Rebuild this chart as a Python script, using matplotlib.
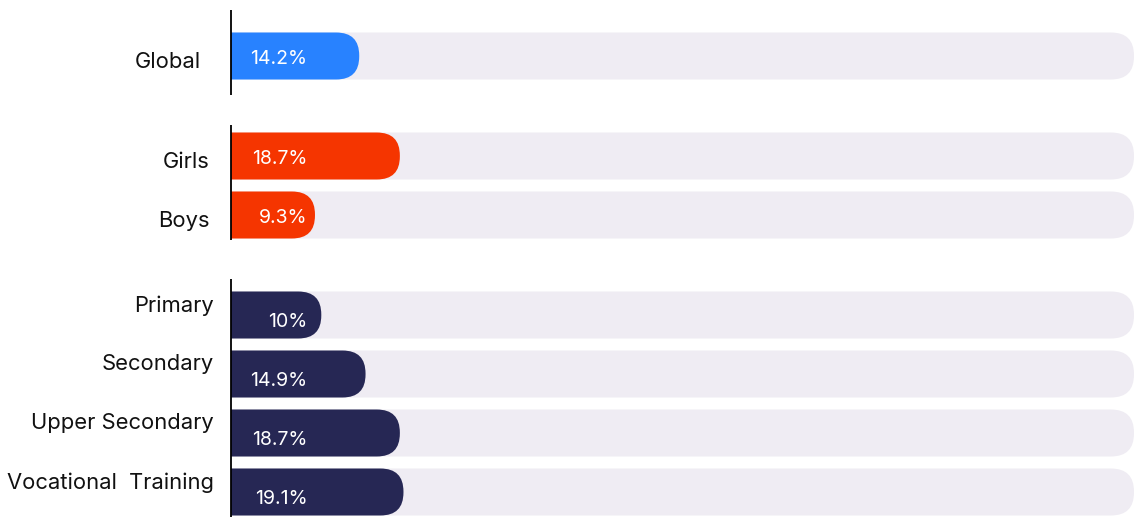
import matplotlib.pyplot as plt
from matplotlib.patches import FancyBboxPatch

plt.rcParams['font.family'] = ['Inter', 'DejaVu Sans']

# data
labels = ['Global', 'Girls', 'Boys', 'Primary', 'Secondary', 'Upper Secondary', 'Vocational  Training']
values = [14.2, 18.7, 9.3, 10, 14.9, 18.7, 19.1]
groups = [0, 1, 1, 2, 2, 2, 2]
group_colors = ['#2882FF', '#F53500', '#262754']
track_color = '#EFECF3'

W, H = 1134, 517
fig = plt.figure(figsize=(W / 100, H / 100), dpi=100)
left = 231
ax = fig.add_axes([left / W, 0, (W - left) / W, 1])
ax.set_xlim(0, 100)
ax.set_ylim(H, 0)
ax.axis('off')

px_x = (W - left) / 100.0   # pixels per x unit
bar_h = 47
rad = 23
aspect = px_x                # y units are pixels
R = rad / px_x

# row positions from group structure
ys = [56 + i * 59 + g * 41 for i, g in enumerate(groups)]

def rbar(x1, y, color, z):
    # start left of zero so the left end gets clipped square
    p = FancyBboxPatch((-5, y - bar_h / 2), x1 + 5, bar_h,
                       boxstyle='round,pad=0,rounding_size=%f' % R,
                       mutation_aspect=aspect, fc=color, ec='none', zorder=z)
    ax.add_patch(p)

for i in range(len(labels)):
    y = ys[i]
    g = groups[i]
    rbar(100, y, track_color, 1)
    rbar(values[i], y, group_colors[g], 2)

    # value label inside bar
    dy = 5 if g == 2 else 2
    vtxt = ('%g' % values[i]) + '%'
    ax.annotate(vtxt, xy=(0, y), xytext=(55, -dy), textcoords='offset points',
                ha='right', va='center', color='white', fontsize=14, zorder=3)

    # category label
    lx = {0: -30, 1: -21, 2: -17}[g] * 0.72
    ly = -7 if g == 2 else 4
    ax.annotate(labels[i], xy=(0, y), xytext=(lx, -ly), textcoords='offset points',
                ha='right', va='center', color='#111111', fontsize=15.8,
                annotation_clip=False)

# axis line segments, one per group
ext = [(46, 39), (31, 25), (36, 40)]
for g in range(3):
    gy = [ys[i] for i in range(len(ys)) if groups[i] == g]
    ax.vlines(0, min(gy) - ext[g][0], max(gy) + ext[g][1],
              color='black', lw=1.3, zorder=4, clip_on=False)

fig.savefig('out.png', dpi=100)
